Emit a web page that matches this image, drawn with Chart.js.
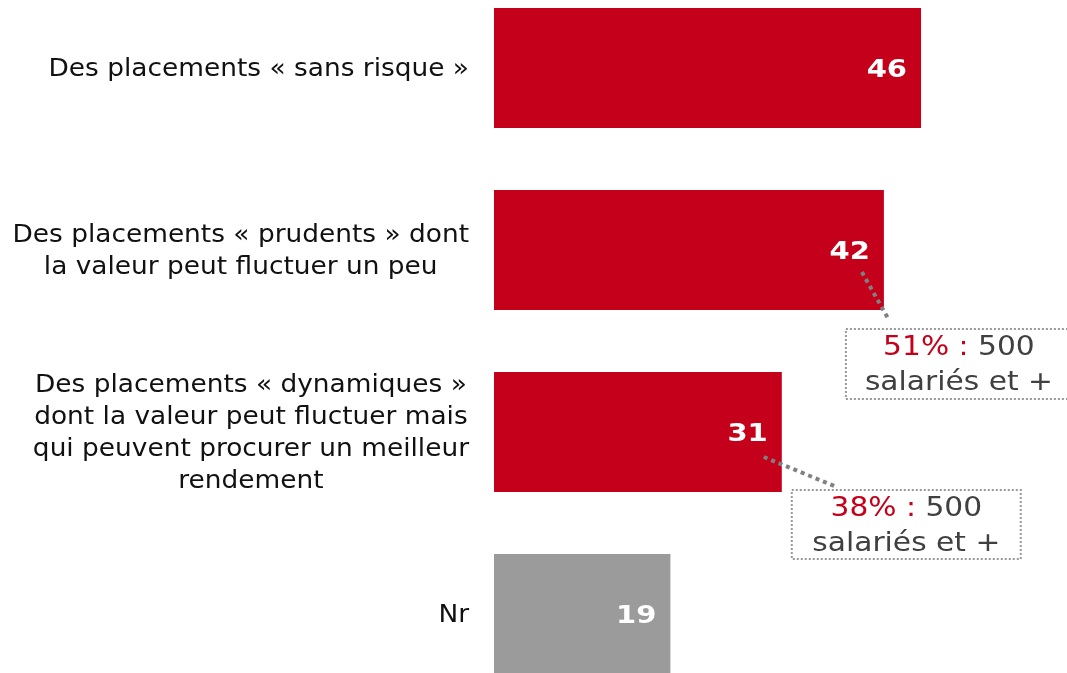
<!DOCTYPE html>
<html>
<head>
<meta charset="utf-8">
<script src="https://cdn.jsdelivr.net/npm/chart.js@4.4.1/dist/chart.umd.min.js"></script>
<style>
  html, body { margin: 0; padding: 0; background: #fff; overflow: hidden; width: 1067px; height: 673px; }
  #wrap { position: absolute; left: 0; top: -23px; width: 1067px; height: 728px; }
</style>
</head>
<body>
<div id="wrap"><canvas id="chart" width="1067" height="728"></canvas></div>
<script>
// data
const categories = [
    ['Des placements « sans risque »'],
    ['Des placements « prudents » dont', 'la valeur peut fluctuer un peu'],
    ['Des placements « dynamiques »', 'dont la valeur peut fluctuer mais', 'qui peuvent procurer un meilleur', 'rendement'],
    ['Nr']
];
const values = [46, 42, 31, 19];
const barColors = ['#C4001A', '#C4001A', '#C4001A', '#9B9B9B'];
// sub-group callouts (500 salariés et +)
const calloutPct = [null, '51%', '38%', null];
const calloutText = [null, ['500', 'salariés et +'], ['500', 'salariés et +'], null];

const RED = '#C4001A';
const FONT = '"DejaVu Sans", Verdana, sans-serif';

// DejaVu is a bit narrower than Verdana, stretch it a little
function wideText(ctx, text, x, y, sx) {
    ctx.save();
    ctx.translate(x, y);
    ctx.scale(sx, 1);
    ctx.fillText(text, 0, 0);
    ctx.restore();
}

const labelsPlugin = {
    id: 'labels',
    afterDatasetsDraw(chart) {
        const ctx = chart.ctx;
        const yScale = chart.scales.y;
        const bars = chart.getDatasetMeta(0).data;
        ctx.save();

        // category labels, centred lines, block right-aligned
        const sx = 1.1;
        ctx.font = '24px ' + FONT;
        ctx.fillStyle = '#111';
        ctx.textBaseline = 'middle';
        ctx.textAlign = 'center';
        const lh = 32;
        categories.forEach((lines, i) => {
            const yc = yScale.getPixelForValue(i) + 2;
            let w = 0;
            lines.forEach(l => { w = Math.max(w, ctx.measureText(l).width * sx); });
            const cx = 469 - w / 2;
            lines.forEach((l, j) => {
                wideText(ctx, l, cx, yc + (j - (lines.length - 1) / 2) * lh, sx);
            });
        });

        // values inside bars
        ctx.font = 'bold 25px ' + FONT;
        ctx.fillStyle = '#fff';
        ctx.textAlign = 'right';
        bars.forEach((bar, i) => {
            wideText(ctx, String(values[i]), bar.x - 14, bar.y + 2, 1.16);
        });

        // callouts
        const geo = [null,
            { from: [-22, 22], to: [5, 70], box: [-39, 78, 228, 72] },
            { from: [-18, 25], to: [55, 55], box: [9, 57, 231, 71] },
            null];
        bars.forEach((bar, i) => {
            if (!calloutPct[i]) return;
            const g = geo[i];
            ctx.strokeStyle = '#808080';
            ctx.lineWidth = 4;
            ctx.setLineDash([4, 4]);
            ctx.beginPath();
            ctx.moveTo(bar.x + g.from[0], bar.y + g.from[1]);
            ctx.lineTo(bar.x + g.to[0], bar.y + g.to[1]);
            ctx.stroke();

            const bx = bar.x + g.box[0], by = bar.y + g.box[1];
            const bw = g.box[2], bh = g.box[3];
            ctx.fillStyle = '#fff';
            ctx.fillRect(bx, by, bw, bh);
            ctx.strokeStyle = '#999';
            ctx.lineWidth = 2;
            ctx.setLineDash([2, 2]);
            ctx.strokeRect(bx + 1, by + 1, bw - 2, bh - 2);
            ctx.setLineDash([]);

            const cs = 1.1;
            ctx.font = '27px ' + FONT;
            ctx.textAlign = 'left';
            const first = calloutPct[i] + ' : ';
            const rest = calloutText[i][0];
            const w1 = ctx.measureText(first).width * cs;
            const w2 = ctx.measureText(rest).width * cs;
            const cx = bx + bw / 2;
            const x0 = cx - (w1 + w2) / 2;
            const y1 = by + bh / 2 - 16;
            ctx.fillStyle = RED;
            wideText(ctx, first, x0, y1, cs);
            ctx.fillStyle = '#404040';
            wideText(ctx, rest, x0 + w1, y1, cs);
            ctx.textAlign = 'center';
            wideText(ctx, calloutText[i][1], cx, y1 + 35, cs);
        });
        ctx.restore();
    }
};

new Chart(document.getElementById('chart').getContext('2d'), {
    type: 'bar',
    data: {
        labels: categories,
        datasets: [{
            data: values,
            backgroundColor: barColors,
            borderWidth: 0,
            categoryPercentage: 1,
            barPercentage: 0.66
        }]
    },
    options: {
        indexAxis: 'y',
        responsive: false,
        animation: false,
        layout: { padding: { left: 494, right: 16, top: 0, bottom: 0 } },
        plugins: {
            legend: { display: false },
            tooltip: { enabled: false }
        },
        scales: {
            x: { min: 0, max: 60, display: false },
            y: { display: false }
        }
    },
    plugins: [labelsPlugin]
});
</script>
</body>
</html>
